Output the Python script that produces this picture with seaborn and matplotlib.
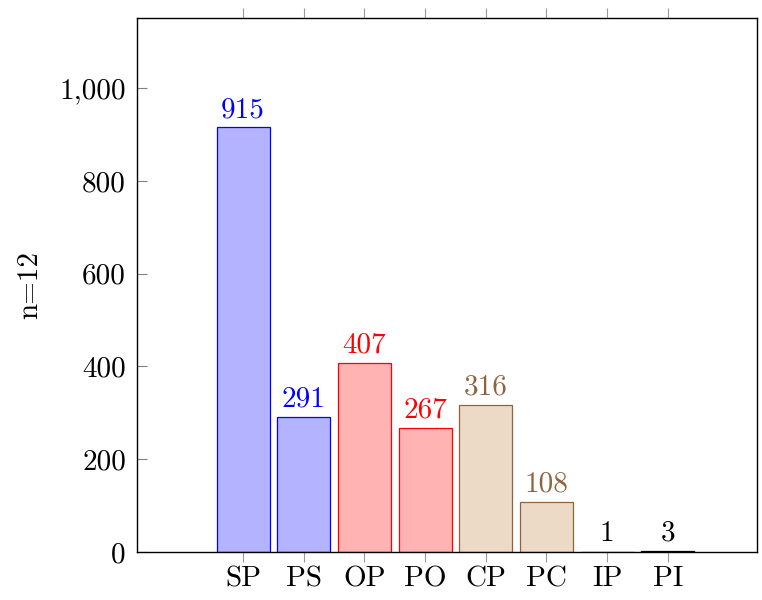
import matplotlib
matplotlib.use("Agg")
import matplotlib.pyplot as plt
import seaborn as sns
import pandas as pd

# Relation counts per category
categories = ["SP", "PS", "OP", "PO", "CP", "PC", "IP", "PI"]
counts = [915, 291, 407, 267, 316, 108, 1, 3]
groups = ["blue", "blue", "red", "red", "brown", "brown", "black", "black"]

fill_colors = {"blue": "#B3B3FF", "red": "#FFB3B3", "brown": "#ECD9C6", "black": "#B3B3B3"}
edge_colors = {"blue": "#0000FF", "red": "#FF0000", "brown": "#8E6440", "black": "#000000"}

y_ticks = [0, 200, 400, 600, 800, 1000]
y_tick_labels = ["0", "200", "400", "600", "800", "1,000"]

sns.set_style("white")
plt.rcParams["font.family"] = ["cmr10", "DejaVu Serif"]
plt.rcParams["mathtext.fontset"] = "cm"
plt.rcParams["axes.formatter.use_mathtext"] = True
plt.rcParams["text.color"] = "black"
plt.rcParams["axes.labelcolor"] = "black"

df = pd.DataFrame({"cat": categories, "n": counts})
palette = {c: fill_colors[g] for c, g in zip(categories, groups)}

fig = plt.figure(figsize=(7.62, 6.0), dpi=100)
ax = fig.add_axes([137 / 762, 48 / 600, 620 / 762, 534 / 600])

sns.barplot(data=df, x="cat", y="n", hue="cat", order=categories,
            hue_order=categories, palette=palette, width=0.875,
            legend=False, ax=ax, saturation=1)

for container, cat, g, val in zip(ax.containers, categories, groups, counts):
    for bar in container:
        bar.set_edgecolor(edge_colors[g])
        bar.set_linewidth(0.9)
        ax.annotate(str(val), (bar.get_x() + bar.get_width() / 2, bar.get_height()),
                    xytext=(0, 7.5), textcoords="offset points",
                    ha="center", va="baseline", fontsize=21,
                    color=edge_colors[g])

ax.set_xlim(-1.75, 8.47)
ax.set_ylim(0, 1151)
ax.set_yticks(y_ticks, y_tick_labels)
ax.set_xlabel("")
ax.set_ylabel("n=12", fontsize=21, color="black")
ax.yaxis.set_label_coords(-0.152, 0.5)

for s in ax.spines.values():
    s.set_visible(True)
    s.set_color("black")
    s.set_linewidth(1.0)

ax.tick_params(axis="y", direction="in", length=7, width=0.8, color="#808080",
               labelcolor="black", labelsize=21, pad=8, left=True, right=False)
ax.tick_params(axis="x", direction="out", length=7, width=0.8, color="#9a9a9a",
               labelcolor="black", labelsize=21, pad=3, bottom=True, top=True)

fig.savefig("out.png", dpi=100)
